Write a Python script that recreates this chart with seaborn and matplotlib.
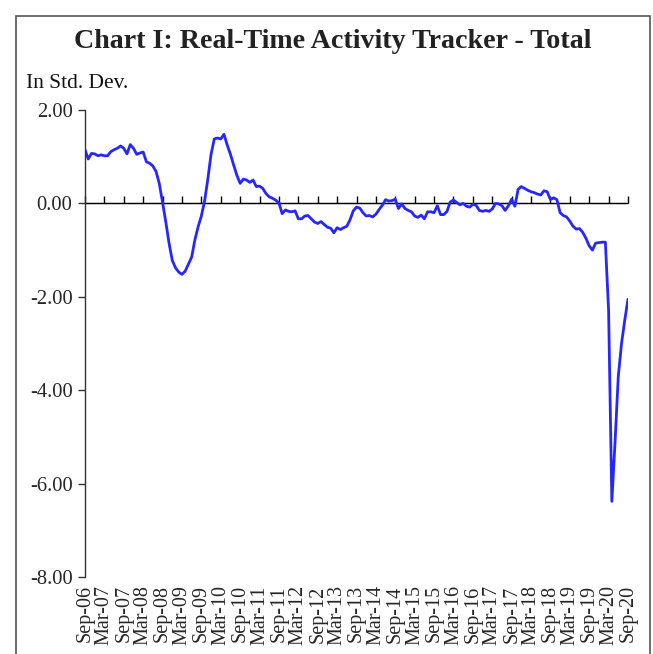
import numpy as np
import pandas as pd
import matplotlib
matplotlib.use("Agg")
import matplotlib.pyplot as plt
import seaborn as sns
from matplotlib.patches import Rectangle

# ---- data (monthly, Sep-06 .. Sep-20) ----
start_month = "2006-09-01"
values = [
    1.15, 0.95, 1.07, 1.06, 1.02, 1.04, 1.02, 1.02, 1.11, 1.15,
    1.18, 1.23, 1.18, 1.06, 1.26, 1.18, 1.05, 1.08, 1.10, 0.89,
    0.86, 0.80, 0.68, 0.42, 0.02, -0.40, -0.85, -1.22, -1.38, -1.47,
    -1.52, -1.45, -1.30, -1.15, -0.78, -0.50, -0.27, 0.05, 0.52, 1.05,
    1.38, 1.40, 1.38, 1.48, 1.25, 1.05, 0.82, 0.60, 0.43, 0.52,
    0.50, 0.45, 0.50, 0.36, 0.37, 0.32, 0.21, 0.14, 0.11, 0.07,
    0.01, -0.22, -0.14, -0.17, -0.18, -0.16, -0.33, -0.33, -0.27, -0.26,
    -0.33, -0.40, -0.43, -0.39, -0.45, -0.51, -0.53, -0.63, -0.52, -0.56,
    -0.52, -0.49, -0.35, -0.16, -0.08, -0.10, -0.20, -0.27, -0.26, -0.29,
    -0.23, -0.13, -0.04, 0.08, 0.05, 0.06, 0.09, -0.11, -0.01, -0.11,
    -0.15, -0.18, -0.27, -0.30, -0.25, -0.33, -0.18, -0.18, -0.20, -0.05,
    -0.24, -0.24, -0.17, 0.03, 0.07, 0.02, -0.03, 0.00, -0.06, -0.08,
    -0.02, -0.04, -0.15, -0.17, -0.15, -0.17, -0.12, 0.00, -0.01, -0.05,
    -0.15, -0.05, 0.09, -0.06, 0.30, 0.36, 0.32, 0.28, 0.25, 0.23,
    0.20, 0.18, 0.27, 0.25, 0.08, 0.12, 0.08, -0.20, -0.26, -0.29,
    -0.38, -0.49, -0.55, -0.54, -0.62, -0.75, -0.91, -1.00, -0.85, -0.84,
    -0.83, -0.83, -2.30, -6.38, -5.10, -3.70, -3.00, -2.50, -2.05,
]
y_ticks = [2, 0, -2, -4, -6, -8]
title = "Chart I: Real-Time Activity Tracker - Total"
y_unit = "In Std. Dev."

dates = pd.date_range(start_month, periods=len(values), freq="MS")
df = pd.DataFrame({"idx": np.arange(len(values)), "value": values})
tick_pos = list(range(0, len(values), 6))
tick_labels = [dates[i].strftime("%b-%y") for i in tick_pos]

sns.set_style("white")
plt.rcParams["font.family"] = ["Liberation Serif", "DejaVu Serif"]

fig = plt.figure(figsize=(6.53, 6.54), dpi=100)
ax = fig.add_axes([85 / 653, 1 - 577 / 654, (628 - 85) / 653, (577 - 110) / 654])

sns.lineplot(data=df, x="idx", y="value", ax=ax, color="#2626ff", linewidth=2.0)

ax.set_xlim(0, len(values) - 1)
ax.set_ylim(-8, 2)
ax.set_xlabel("")
ax.set_ylabel("")

# y axis
ax.set_yticks(y_ticks)
ax.set_yticklabels([f"{v:.2f}" for v in y_ticks], fontsize=14.8)
ax.tick_params(axis="y", direction="out", length=5, width=1, color="#333333",
               pad=4, left=True)
for s in ["top", "right", "bottom"]:
    ax.spines[s].set_visible(False)
ax.spines["left"].set_color("#333333")
ax.spines["left"].set_linewidth(1)

# x labels at bottom (no tick marks)
ax.set_xticks(tick_pos)
ax.set_xticklabels(tick_labels, rotation=90, fontsize=14.5)
ax.tick_params(axis="x", length=0, pad=6, bottom=True)

# zero line with ticks
ax.axhline(0, color="black", linewidth=1, zorder=1)
sec = ax.secondary_xaxis(0.8)
sec.set_xticks(tick_pos)
sec.set_xticklabels([])
sec.tick_params(axis="x", direction="out", length=5, width=1, color="black")
sec.spines["bottom"].set_color("black")
sec.spines["bottom"].set_linewidth(1)

# title and unit
fig.text(0.509, 1 - 42 / 654, title, ha="center", va="center",
         fontsize=20.2, fontweight="bold", color="#222222")
fig.text(26 / 653, 1 - 83 / 654, y_unit, ha="left", va="center",
         fontsize=15.5, color="#111111")

# frame
fig.patches.append(Rectangle((16 / 653, -0.05), (650 - 16) / 653, 1 - 16 / 654 + 0.05,
                             transform=fig.transFigure, fill=False,
                             edgecolor="#555555", linewidth=1.2))

fig.savefig("out.png", dpi=100)
